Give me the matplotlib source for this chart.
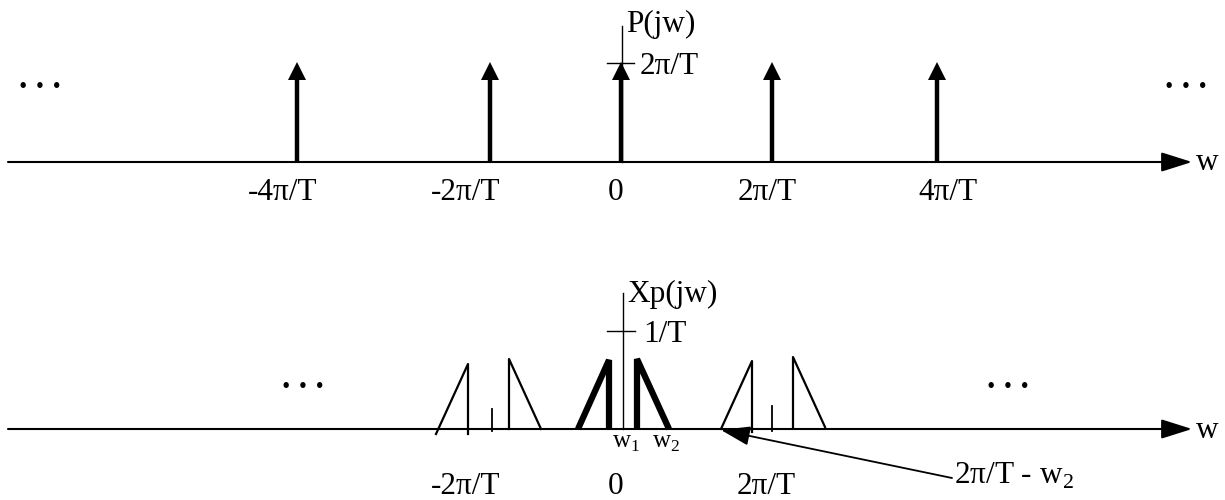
import matplotlib
matplotlib.use("Agg")
import matplotlib.pyplot as plt

plt.rcParams['font.family'] = ['Liberation Serif', 'DejaVu Serif']
plt.rcParams['mathtext.fontset'] = 'custom'
plt.rcParams['mathtext.rm'] = 'Liberation Serif'

# -----------------------------------------------------------------------------------------
# Diagram data (in picture units)

# top panel: impulse train P(jw)
impulse_x = [297, 490, 621, 772, 937]
impulse_labels = ['-4π/T', '-2π/T', '0', '2π/T', '4π/T']
impulse_label_x = [283, 466, 616, 767, 948]
impulse_height = 62
top_axis_y = 162

# bottom panel: Xp(jw) spectrum pieces (each one a polyline)
centre_pieces = [
    ([578, 609, 609], [429, 360, 429]),
    ([637, 637, 669], [429, 359, 429]),
]
shifted_pieces = [
    ([436, 468, 468], [434, 364, 434]),
    ([509, 509, 541], [429, 359, 429]),
    ([721, 752, 752], [429, 361, 432]),
    ([793, 793, 825], [427, 357, 427]),
]
small_marks_x = [492, 772]
small_marks_top = [409, 406]
bottom_axis_y = 429
bottom_labels = ['-2π/T', '0', '2π/T']
bottom_label_x = [466, 616, 766]

# -----------------------------------------------------------------------------------------

fig = plt.figure(figsize=(12.25, 5), dpi=100)
ax = fig.add_axes([0, 0, 1, 1])
ax.set_xlim(0, 1225)
ax.set_ylim(500, 0)
ax.axis('off')

fs = 22.5

# horizontal axes with arrow heads
for y in [top_axis_y, bottom_axis_y]:
    ax.annotate('', xy=(1192, y), xytext=(8, y),
                arrowprops=dict(arrowstyle='-|>,head_length=1.9,head_width=0.6',
                                lw=1.5, color='black', shrinkA=0, shrinkB=0,
                                mutation_scale=10))
    ax.text(1196, y + 1, 'w', fontsize=fs, va='center', ha='left')

# ---- top panel ----
ax.plot([622, 622], [26, top_axis_y], color='black', lw=1)
ax.plot([607, 634], [63, 63], color='black', lw=1)
ax.text(626, 24, 'P(jw)', fontsize=fs, va='center', ha='left')
ax.text(640, 66, '2π/T', fontsize=fs, va='center', ha='left')

for x in impulse_x:
    ax.plot([x, x], [top_axis_y, impulse_height + 14], color='black', lw=3.2,
            solid_capstyle='butt')
    ax.plot(x, impulse_height + 8.5, marker='^', color='black', markersize=12.5,
            markeredgewidth=0)

for x, lab in zip(impulse_label_x, impulse_labels):
    ax.text(x, 192, lab, fontsize=fs, va='center', ha='center')

ax.text(40, 80, '. . .', fontsize=24, va='center', ha='center', fontweight='bold')
ax.text(1186, 80, '. . .', fontsize=24, va='center', ha='center', fontweight='bold')

# ---- bottom panel ----
ax.plot([623, 623], [293, bottom_axis_y], color='black', lw=1)
ax.plot([607, 635], [331, 331], color='black', lw=1)
ax.text(627, 294, 'Xp(jw)', fontsize=fs, va='center', ha='left')
ax.text(643, 334, '1/T', fontsize=fs, va='center', ha='left')

for xs, ys in centre_pieces:
    ax.plot(xs, ys, color='black', lw=4.5, solid_joinstyle='bevel',
            solid_capstyle='butt')
for xs, ys in shifted_pieces:
    ax.plot(xs, ys, color='black', lw=1.6)
for x, yt in zip(small_marks_x, small_marks_top):
    ax.plot([x, x], [yt, bottom_axis_y + 2], color='black', lw=1.3)

ax.text(612, 443, r'w$_\mathregular{1}$', fontsize=18, va='center', ha='left')
ax.text(652, 443, r'w$_\mathregular{2}$', fontsize=18, va='center', ha='left')

for x, lab in zip(bottom_label_x, bottom_labels):
    ax.text(x, 486, lab, fontsize=fs, va='center', ha='center')

ax.text(303, 380, '. . .', fontsize=24, va='center', ha='center', fontweight='bold')
ax.text(1008, 380, '. . .', fontsize=24, va='center', ha='center', fontweight='bold')

# annotation arrow for 2pi/T - w2
ax.annotate('', xy=(721, 430), xytext=(952, 478),
            arrowprops=dict(arrowstyle='-|>,head_length=1.8,head_width=0.6',
                            lw=1.3, color='black', shrinkA=0, shrinkB=0,
                            mutation_scale=10))
ax.text(954, 476, r'2π/T - w$_\mathregular{2}$', fontsize=fs, va='center', ha='left')

plt.savefig('out.png', dpi=100)
plt.close()
